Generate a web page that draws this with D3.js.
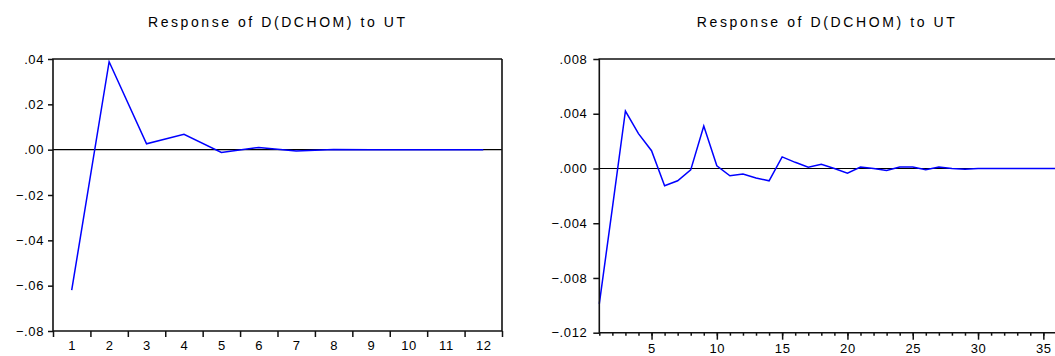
<!DOCTYPE html>
<html lang="en">
<head>
    <meta charset="UTF-8">
    <title>Impulse responses</title>
    <script src="https://d3js.org/d3.v7.min.js"></script>
    <style>
        body { margin: 0; background: white; }
        svg text { font-family: "Liberation Sans", Arial, sans-serif; fill: #000; }
    </style>
</head>
<body>
<svg id="main" width="1055" height="356"></svg>
<script>
    // titles
    let titleText = "Response of D(DCHOM) to UT";

    // left panel: 12 periods
    let leftPeriods = [1, 2, 3, 4, 5, 6, 7, 8, 9, 10, 11, 12];
    let leftResponse = [-0.062, 0.0388, 0.0026, 0.0068, -0.0012, 0.0010, -0.0006, 0.0001, 0, 0, 0, 0];
    let leftYTicks = [0.04, 0.02, 0, -0.02, -0.04, -0.06, -0.08];

    // right panel: 36 periods
    let rightPeriods = [1, 2, 3, 4, 5, 6, 7, 8, 9, 10, 11, 12, 13, 14, 15, 16, 17, 18,
                        19, 20, 21, 22, 23, 24, 25, 26, 27, 28, 29, 30, 31, 32, 33, 34, 35, 36];
    let rightResponse = [-0.0099, -0.0029, 0.0042, 0.00255, 0.0013, -0.00126, -0.0009, -0.0001, 0.0031,
                         0.0002, -0.00053, -0.0004, -0.0007, -0.0009, 0.00085, 0.00045, 0.0001, 0.0003,
                         0, -0.00035, 0.0001, 0, -0.00015, 0.0001, 0.0001, -0.0001, 0.0001, 0,
                         -0.00005, 0, 0, 0, 0, 0, 0, 0];
    let rightYTicks = [0.008, 0.004, 0, -0.004, -0.008, -0.012];
    let rightXLabels = [5, 10, 15, 20, 25, 30, 35];

    let svg = d3.select('svg#main');

    // strip leading zero like ".04" / "-.02"
    function fmt(digits) {
        let f = d3.format('.' + digits + 'f');
        return function (d) { return f(d).replace('0.', '.'); };
    }

    function styleAxis(g) {
        g.select('.domain').remove();
        g.selectAll('.tick line').attr('stroke', '#111').attr('stroke-width', 1.5);
        g.selectAll('.tick text').style('font-size', '13px').style('letter-spacing', '0.6px');
    }

    function drawPanel(opts) {
        let g = svg.append('g');
        let x = opts.x, y = opts.y;
        let xr = x.range(), yr = y.range();

        // title
        g.append('text')
            .attr('x', opts.titleX)
            .attr('y', 27)
            .attr('text-anchor', 'middle')
            .attr('textLength', opts.titleW)
            .attr('lengthAdjust', 'spacing')
            .style('font-size', '14px')
            .text(titleText);

        // y axis
        g.append('g')
            .attr('transform', 'translate(' + xr[0] + ',0)')
            .call(d3.axisLeft(y).tickValues(opts.yTicks).tickFormat(opts.yFmt)
                .tickSize(opts.yTickSize).tickPadding(opts.yPad))
            .call(styleAxis);

        // zero line
        g.append('line')
            .attr('x1', xr[0]).attr('x2', opts.right)
            .attr('y1', y(0)).attr('y2', y(0))
            .attr('stroke', '#000').attr('stroke-width', 1.2);

        // response line
        let line = d3.line()
            .x(function (d) { return x(d.p); })
            .y(function (d) { return y(d.v); });
        let pts = opts.periods.map(function (p, i) { return {p: p, v: opts.values[i]}; });
        g.append('path')
            .datum(pts)
            .attr('d', line)
            .attr('fill', 'none')
            .attr('stroke', '#0000ff')
            .attr('stroke-width', 1.5);

        // frame
        let frame = g.append('path')
            .attr('fill', 'none')
            .attr('stroke', '#111')
            .attr('stroke-width', 1.6);
        frame.attr('d', 'M' + opts.right + ',' + yr[1] + 'H' + xr[0] + 'V' + yr[0] + 'H' + opts.right +
            (opts.closed ? 'V' + yr[1] : ''));
        return g;
    }

    // ---- left panel
    let xLeft = d3.scaleLinear().domain([0.5, 12.5]).range([53, 502]);
    let yLeft = d3.scaleLinear().domain([-0.08, 0.04]).range([331, 59]);
    let gl = drawPanel({
        x: xLeft, y: yLeft, periods: leftPeriods, values: leftResponse,
        yTicks: leftYTicks, yFmt: fmt(2), yTickSize: 5, yPad: 4,
        right: 502, closed: true, titleX: 276.5, titleW: 257
    });
    let leftEdges = leftPeriods.map(function (p) { return p - 0.5; }).concat([12.5]);
    gl.append('g')
        .attr('transform', 'translate(0,331)')
        .call(d3.axisBottom(xLeft).tickValues(leftEdges).tickFormat('').tickSize(6))
        .call(styleAxis);
    gl.append('g')
        .attr('transform', 'translate(0,331)')
        .call(d3.axisBottom(xLeft).tickValues(leftPeriods).tickSize(0).tickPadding(10))
        .call(styleAxis);

    // ---- right panel (cut off by the window on the right)
    let xRight = d3.scaleLinear().domain([1, 36]).range([599.3, 1056.4]);
    let yRight = d3.scaleLinear().domain([-0.012, 0.008]).range([332.7, 59]);
    let gr = drawPanel({
        x: xRight, y: yRight, periods: rightPeriods, values: rightResponse,
        yTicks: rightYTicks, yFmt: fmt(3), yTickSize: 6, yPad: 6,
        right: 1056.4, closed: false, titleX: 825.8, titleW: 258
    });
    gr.append('g')
        .attr('transform', 'translate(0,332.7)')
        .call(d3.axisBottom(xRight).tickValues(rightPeriods).tickFormat('').tickSize(3))
        .call(styleAxis);
    gr.append('g')
        .attr('transform', 'translate(0,332.7)')
        .call(d3.axisBottom(xRight).tickValues(rightXLabels).tickSize(7).tickPadding(4))
        .call(styleAxis);
</script>
</body>
</html>
